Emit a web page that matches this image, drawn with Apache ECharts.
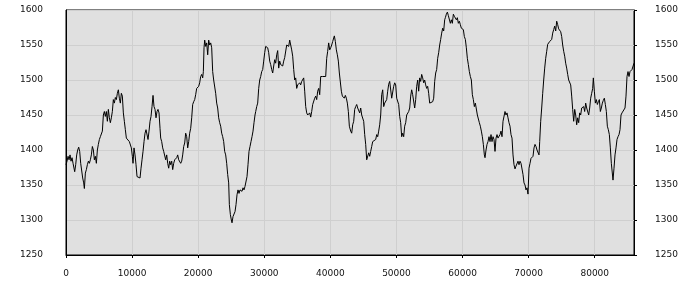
<!DOCTYPE html>
<html><head><meta charset="utf-8">
<script src="https://cdn.jsdelivr.net/npm/echarts@6/dist/echarts.min.js"></script>
<style>html,body{margin:0;padding:0;background:#fff}#c{width:700px;height:300px}</style>
</head><body><div id="c"></div>
<script>
const xs = [0,156,308,459,610,761,913,1064,1215,1316,1468,1619,1770,1921,2073,2224,2375,2526,2678,2779,2930,3081,3232,3384,3535,3686,3838,3989,4140,4291,4443,4594,4745,4896,5048,5199,5350,5502,5653,5804,5955,6107,6258,6409,6560,6712,6863,7014,7165,7317,7468,7619,7771,7922,8073,8224,8376,8527,8678,8829,8981,9132,9283,9434,9586,9737,9888,10040,10141,10292,10443,10594,10746,10897,11048,11200,11351,11502,11653,11805,11956,12107,12259,12410,12561,12712,12864,13015,13166,13317,13469,13620,13771,13922,14074,14225,
14328,14479,14630,14781,14933,15084,15235,15387,15538,15689,15840,15992,16143,16294,16445,16597,16748,16899,17051,17202,17353,17504,17656,17807,17958,18109,18261,18412,18563,18714,18866,19017,19168,19320,19471,19622,19773,19925,20076,20227,20378,20530,20681,20782,20883,20984,21135,21287,21438,21589,21740,21892,22043,22194,22345,22497,22648,22799,22950,23102,23253,23404,23556,23707,23858,24009,24161,24312,24463,24614,24715,24867,25018,25119,25270,25421,25573,25724,25875,26026,26178,26329,26480,26632,26783,26934,27085,27237,27388,27539,27690,27842,27993,28144,28296,28447,28598,
28703,28854,29005,29156,29308,29459,29610,29762,29913,30064,30215,30367,30518,30669,30820,30972,31123,31274,31426,31577,31728,31879,32031,32182,32333,32484,32636,32787,32938,33090,33241,33392,33543,33695,33846,33997,34148,34300,34451,34602,34753,34905,35056,35207,35359,35510,35661,35812,35964,36115,36266,36417,36569,36720,36871,37023,37174,37325,37476,37628,37779,37930,38081,38233,38384,38535,38687,38838,38989,39140,39292,39443,39594,39745,39897,40048,40199,40351,40502,40603,40754,40905,41057,41208,41359,41510,41662,41813,41964,42115,42267,42418,42569,42720,42872,
43076,43227,43378,43530,43681,43832,43983,44135,44286,44437,44588,44740,44891,45042,45194,45345,45496,45647,45799,45950,46101,46252,46404,46555,46706,46857,47009,47160,47311,47463,47614,47765,47916,48068,48219,48370,48521,48673,48824,48975,49127,49278,49429,49580,49732,49883,50034,50185,50337,50488,50639,50790,50942,51093,51244,51396,51547,51698,51849,52001,52152,52303,52454,52606,52757,52908,53059,53211,53362,53513,53665,53816,53967,54118,54270,54421,54572,54723,54875,55026,55177,55328,55480,55631,55782,55934,56085,56236,56387,56539,56690,56841,56992,57144,57295,
57398,57549,57701,57852,58003,58154,58306,58457,58608,58760,58911,59062,59213,59365,59516,59667,59818,59970,60121,60272,60423,60575,60726,60877,61029,61180,61331,61482,61634,61785,61936,62087,62239,62390,62541,62692,62844,62995,63146,63298,63399,63550,63701,63852,64004,64155,64306,64457,64609,64760,64911,65063,65214,65365,65516,65668,65819,65970,66121,66273,66424,66575,66726,66878,67029,67180,67332,67483,67634,67785,67937,68088,68239,68390,68542,68693,68844,68995,69147,69298,69449,69600,69752,69903,70054,70206,70357,70508,70659,70811,70962,71113,71264,71416,71567,
71671,71823,71974,72125,72276,72428,72579,72730,72881,73033,73184,73335,73487,73638,73789,73940,74092,74243,74394,74545,74697,74848,74999,75150,75302,75453,75604,75755,75907,76058,76209,76361,76512,76663,76814,76966,77117,77268,77419,77571,77722,77873,78024,78176,78327,78478,78629,78781,78932,79083,79235,79386,79537,79688,79789,79941,80092,80243,80394,80546,80697,80848,80999,81151,81302,81453,81605,81756,81907,82058,82210,82361,82512,82663,82764,82916,83067,83218,83369,83521,83672,83823,83974,84126,84277,84428,84579,84731,84882,85033,85184,85336,85487,85638,85790,85941];
const ys = [1379,1384,1391,1386,1393,1384,1389,1381,1379,1369,1379,1393,1400,1404,1398,1381,1379,1360,1353,1345,1367,1372,1379,1384,1381,1386,1393,1405,1400,1386,1391,1381,1400,1408,1415,1419,1417,1427,1450,1455,1448,1455,1441,1458,1446,1439,1446,1455,1472,1467,1475,1472,1481,1486,1474,1467,1481,1477,1453,1441,1429,1417,1415,1415,1412,1412,1403,1391,1381,1403,1393,1379,1362,1360,1362,1360,1374,1386,1398,1412,1424,1429,1427,1415,1427,1441,1448,1462,1478,1462,1458,1446,1455,1458,1453,1431,
1417,1412,1403,1398,1396,1386,1393,1381,1374,1384,1379,1384,1372,1381,1386,1384,1389,1393,1386,1384,1381,1384,1393,1405,1410,1424,1419,1403,1412,1424,1431,1446,1465,1469,1472,1479,1488,1490,1491,1496,1505,1508,1503,1512,1546,1557,1548,1553,1536,1557,1550,1553,1546,1512,1500,1498,1481,1467,1460,1446,1439,1434,1424,1419,1412,1398,1393,1381,1365,1353,1322,1308,1300,1296,1305,1303,1312,1322,1336,1343,1338,1343,1341,1341,1346,1343,1348,1348,1362,1379,1398,1405,1412,1419,1427,1439,1450,
1455,1462,1467,1488,1500,1505,1512,1515,1527,1539,1548,1550,1546,1539,1527,1522,1515,1510,1520,1529,1524,1536,1542,1517,1527,1522,1524,1520,1527,1532,1532,1550,1550,1548,1557,1550,1543,1534,1515,1500,1503,1488,1493,1491,1496,1493,1498,1500,1503,1484,1462,1453,1450,1448,1453,1447,1455,1465,1467,1474,1477,1472,1484,1488,1479,1505,1503,1505,1503,1503,1505,1531,1541,1553,1543,1546,1550,1555,1560,1563,1555,1543,1536,1527,1510,1508,1484,1477,1479,1474,1478,1474,1467,1455,1434,
1427,1424,1436,1441,1458,1462,1465,1460,1462,1453,1460,1450,1450,1441,1422,1408,1386,1384,1396,1391,1398,1405,1412,1412,1412,1415,1422,1419,1427,1436,1450,1479,1486,1462,1467,1465,1472,1484,1494,1498,1496,1474,1472,1491,1496,1493,1474,1472,1465,1448,1439,1419,1424,1419,1434,1439,1450,1448,1455,1460,1477,1486,1479,1481,1460,1472,1491,1500,1484,1503,1498,1508,1503,1496,1500,1493,1488,1491,1481,1467,1465,1467,1469,1474,1498,1510,1515,1531,1539,1550,1558,1567,1574,1570,1586,
1589,1594,1597,1592,1591,1581,1586,1581,1594,1591,1593,1586,1589,1581,1584,1579,1574,1572,1572,1562,1558,1546,1531,1522,1512,1505,1500,1479,1472,1462,1467,1465,1450,1448,1439,1434,1427,1419,1408,1393,1389,1400,1408,1412,1419,1412,1422,1412,1419,1415,1398,1417,1422,1417,1419,1422,1427,1419,1441,1443,1455,1450,1453,1446,1439,1434,1422,1417,1393,1379,1373,1377,1379,1384,1379,1384,1381,1379,1365,1353,1350,1343,1346,1337,1374,1381,1388,1386,1391,1403,1408,1405,1400,1398,1393,
1412,1441,1460,1481,1500,1517,1531,1541,1551,1553,1555,1555,1558,1567,1572,1577,1570,1584,1579,1573,1574,1569,1562,1550,1541,1534,1524,1517,1508,1500,1500,1493,1477,1458,1441,1458,1450,1436,1446,1439,1453,1450,1460,1458,1462,1455,1467,1460,1458,1450,1460,1474,1481,1488,1503,1484,1467,1472,1465,1469,1472,1455,1460,1467,1471,1474,1465,1455,1434,1429,1422,1403,1381,1379,1357,1374,1393,1403,1415,1419,1422,1429,1450,1453,1455,1453,1460,1477,1505,1512,1505,1512,1510,1515,1515,1524];
const xTicks = {min: 0, max: 85940, interval: 10000};
const yTicks = {min: 1250, max: 1600, interval: 50};

const data = xs.map((x, i) => [x, ys[i]]);
const chart = echarts.init(document.getElementById('c'), null, {renderer: 'canvas'});
const lbl = {fontFamily: 'DejaVu Sans', fontSize: 9, color: '#111'};
const yBase = {
  type: 'value', min: yTicks.min, max: yTicks.max, interval: yTicks.interval,
  axisLine: {show: true, lineStyle: {color: '#000', width: 1}},
};
chart.setOption({
  animation: false,
  backgroundColor: '#fff',
  grid: {left: 66, right: 66, top: 10, bottom: 45, show: true, backgroundColor: '#e0e0e0', borderColor: '#000', borderWidth: 1},
  xAxis: {
    type: 'value', min: xTicks.min, max: xTicks.max, interval: xTicks.interval,
    axisLine: {show: true, onZero: false, lineStyle: {color: '#000'}},
    axisTick: {show: true, length: 3, lineStyle: {color: '#000'}},
    axisLabel: Object.assign({margin: 14, showMaxLabel: false, formatter: v => (v % 10000 === 0 ? String(v) : '')}, lbl),
    splitLine: {show: true, lineStyle: {color: '#cfcfcf', width: 1}}
  },
  yAxis: [
    Object.assign({}, yBase, {position: 'left',
      axisTick: {show: false},
      axisLabel: Object.assign({margin: 23, formatter: v => String(v)}, lbl),
      splitLine: {show: true, lineStyle: {color: '#cfcfcf', width: 1}}}),
    Object.assign({}, yBase, {position: 'right',
      axisTick: {show: true, length: 3, lineStyle: {color: '#000'}},
      axisLabel: Object.assign({margin: 21, formatter: v => String(v)}, lbl),
      splitLine: {show: false}})
  ],
  series: [{
    type: 'line', data: data, yAxisIndex: 0, showSymbol: false, symbol: 'none',
    lineStyle: {color: '#000', width: 1}, silent: true
  }]
});
</script></body></html>
